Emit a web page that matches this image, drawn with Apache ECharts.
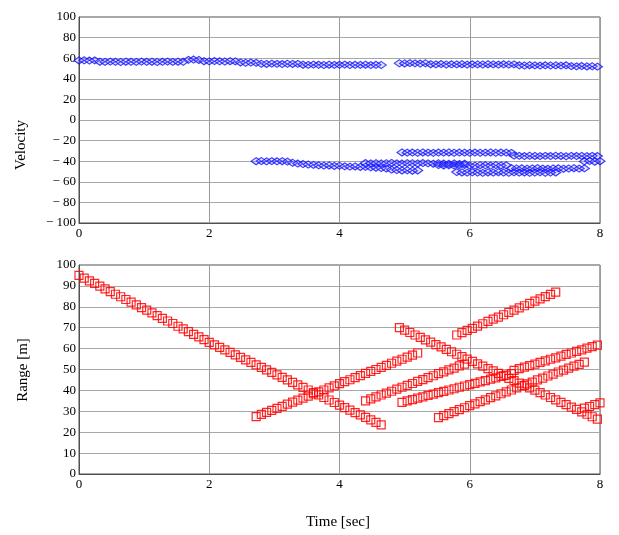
<!DOCTYPE html>
<html lang="en">
<head>
    <meta charset="UTF-8">
    <script src="https://cdn.jsdelivr.net/npm/echarts@6.0.0/dist/echarts.min.js"></script>
    <style>
        html, body { margin: 0; padding: 0; background: #fff; }
    </style>
</head>
<body>
<div id="radarChart" style="width: 619px;height:535px;"></div>
<script type="text/javascript">

    // sampling interval of the tracker [sec]
    var sampleStep = 0.08;

    // start time of each track [sec]
    var trackStarts = [0, 4.92, 2.72, 4.4, 4.96, 6.68, 5.52, 5.8, 7.76];

    // range of each track [m]
    var rangeA = [95, 93.7, 92.4, 91.2, 89.9, 88.6, 87.3, 86.0, 84.8, 83.5, 82.2, 80.9, 79.6, 78.4, 77.1, 75.8,
        74.5, 73.2, 72.0, 70.7, 69.4, 68.1, 66.8, 65.6, 64.3, 63.0, 61.8, 60.6, 59.4, 58.2, 57.0, 55.8, 54.6,
        53.4, 52.2, 51.0, 49.8, 48.6, 47.4, 46.2, 45.0, 43.8, 42.6, 41.4, 40.2, 39.0, 37.8, 36.6, 35.4, 34.2,
        33.0, 31.8, 30.6, 29.4, 28.3, 27.1, 25.9, 24.7, 23.5];
    var rangeB = [70, 68.8, 67.7, 66.5, 65.4, 64.2, 63.1, 61.9, 60.8, 59.6, 58.5, 57.3, 56.2, 55.0, 53.9, 52.7,
        51.6, 50.4, 49.3, 48.1, 47.0, 45.8, 44.7, 43.5, 42.4, 41.2, 40.1, 38.9, 37.8, 36.6, 35.5, 34.3, 33.2,
        32.0, 30.9, 29.7, 28.6, 27.4, 26.3];
    var rangeC = [27.5, 28.5, 29.5, 30.4, 31.4, 32.4, 33.4, 34.4, 35.3, 36.3, 37.3, 38.3, 39.3, 40.2, 41.2, 42.2,
        43.2, 44.2, 45.1, 46.1, 47.1, 48.1, 49.1, 50.0, 51.0, 52.0, 53.0, 54.0, 54.9, 55.9, 56.9, 57.9];
    var rangeD = [35.0, 35.9, 36.9, 37.8, 38.7, 39.6, 40.6, 41.5, 42.4, 43.3, 44.3, 45.2, 46.1, 47.0, 48.0, 48.9,
        49.8, 50.7, 51.7, 52.6];
    var rangeE1 = [34.3, 35.0, 35.6, 36.3, 36.9, 37.6, 38.2, 38.9, 39.5, 40.2, 40.8, 41.5, 42.1, 42.8, 43.4, 44.1,
        44.7, 45.4, 46.0, 46.7, 47.3, 48.0];
    var rangeE2 = [49.6, 50.4, 51.1, 51.9, 52.6, 53.4, 54.1, 54.9, 55.6, 56.4, 57.2, 57.9, 58.7, 59.4, 60.2, 60.9, 61.7];
    var rangeF = [27.0, 27.9, 28.9, 29.8, 30.8, 31.7, 32.7, 33.6, 34.6, 35.5, 36.5, 37.4, 38.4, 39.3, 40.2, 41.2,
        42.1, 43.1, 44.0, 45.0, 45.9, 46.9, 47.8, 48.8, 49.7, 50.7, 51.6, 52.5, 53.5];
    var rangeG = [66.5, 67.6, 68.7, 69.7, 70.8, 71.9, 73.0, 74.1, 75.1, 76.2, 77.3, 78.4, 79.5, 80.5, 81.6, 82.7,
        83.8, 84.9, 85.9, 87.0];
    var rangeH = [31.5, 32.3, 33.2, 34.0];

    // velocity of each track
    var velocityA = [57.8, 58.0, 57.7, 57.9,
        56.6, 56.4, 56.7, 56.5, 56.3, 56.6, 56.5, 56.4, 56.7, 56.5, 56.6, 56.3, 56.5, 56.7, 56.4, 56.6, 56.5,
        58.4, 58.7, 58.3,
        57.1, 56.9, 57.2, 57.0, 56.8, 57.1, 56.9,
        55.9, 55.6, 55.8, 55.5,
        54.6, 54.4, 54.7, 54.5, 54.3, 54.6, 54.4, 54.5,
        53.7, 53.5, 53.8, 53.6, 53.4, 53.7, 53.5, 53.6, 53.8, 53.4, 53.6, 53.5, 53.7, 53.3, 53.6, 53.4];
    var velocityB = [55.1, 54.9, 55.2, 55.0, 54.8, 55.1,
        54.2, 54.0, 54.3, 53.9, 54.1, 54.0, 54.2, 53.8, 54.1, 54.0, 53.9, 54.2, 54.0, 53.8, 54.1, 53.9, 54.0,
        53.1, 52.9, 53.2, 53.0, 52.8, 53.1, 52.9, 53.0, 52.8, 53.1,
        52.3, 52.1, 52.4, 52.0, 52.2, 51.8];
    var velocityC = [-40.0, -39.8, -40.2, -39.9, -40.1, -40.0, -40.4,
        -41.5, -42.3, -42.8, -43.2, -43.6,
        -44.0, -44.3, -44.1, -44.6, -44.4,
        -45.0, -45.3, -45.1, -45.6, -45.4,
        -46.0, -46.3, -46.6, -47.2,
        -48.2, -48.6, -49.0, -48.8, -49.2, -49.0];
    var velocityD = [-41.8, -42.1, -41.9, -42.2, -42.0, -41.7, -42.1, -42.3, -41.9, -42.0, -42.2, -41.8, -42.1,
        -42.4, -42.0, -42.3, -42.5, -42.2, -42.6, -42.4];
    var velocityE1 = [-31.5, -31.7, -31.6, -31.8, -31.5, -31.7, -31.9, -31.6, -31.7, -31.5, -31.8, -31.6, -31.7,
        -31.9, -31.6, -31.8, -31.7, -31.5, -31.8, -31.6, -31.7, -31.9];
    var velocityE2 = [-34.6, -34.8, -35.0, -34.7, -34.9, -35.1, -34.8, -35.0, -34.7, -34.9, -35.2, -34.8, -35.0,
        -34.9, -35.1, -34.8, -35.0];
    var velocityF = [-43.8, -44.1, -43.9, -44.2, -44.0, -43.7, -44.1, -44.3, -43.9, -44.0, -44.2, -43.8, -44.1, -44.0,
        -46.8, -47.1, -46.9, -47.3, -47.0, -46.7, -47.2, -47.4, -47.0, -46.9, -47.3, -47.1, -46.8, -47.2, -47.0];
    var velocityG = [-50.6, -50.9, -51.1, -50.8, -51.0, -51.3, -50.9, -51.1, -50.7, -51.0, -51.2, -50.8, -51.1,
        -50.9, -51.3, -51.0, -50.8, -51.2, -51.0, -50.9];
    var velocityH = [-40.2, -39.8, -40.5, -40.0];

    var rangeTracks = [rangeA, rangeB, rangeC, rangeD, rangeE1, rangeE2, rangeF, rangeG, rangeH];
    var velocityTracks = [velocityA, velocityB, velocityC, velocityD, velocityE1, velocityE2, velocityF, velocityG, velocityH];

    function toPoints(values, start) {
        return values.map((v, i) => [+(start + i * sampleStep).toFixed(3), v]);
    }

    var labelFont = { fontFamily: "Liberation Serif", fontSize: 13, color: "#000" };
    var titleFont = "15px Liberation Serif";

    function minusLabel(v) {
        return v < 0 ? "\u2212 " + Math.abs(v) : String(v);
    }

    function xAxisFor(gridIndex) {
        return {
            type: "value", gridIndex: gridIndex, min: 0, max: 8, interval: 2,
            axisLine: { show: true, onZero: false, lineStyle: { color: "#505050" } },
            axisTick: { show: false },
            axisLabel: Object.assign({ margin: 4 }, labelFont),
            splitLine: { show: true, lineStyle: { color: "#9a9a9a", width: 1 } }
        };
    }

    function yAxisFor(gridIndex, min, max, step) {
        return {
            type: "value", gridIndex: gridIndex, min: min, max: max, interval: step,
            axisLine: { show: true, onZero: false, lineStyle: { color: "#505050" } },
            axisTick: { show: false },
            axisLabel: Object.assign({ margin: 3, formatter: minusLabel }, labelFont),
            splitLine: { show: true, lineStyle: { color: "#a8a8a8", width: 1 } }
        };
    }

    var series = [];
    velocityTracks.forEach((vals, k) => {
        series.push({
            type: "scatter", xAxisIndex: 0, yAxisIndex: 0,
            symbol: "diamond", symbolSize: [10, 7],
            itemStyle: { color: "rgba(120,120,255,0.25)", borderColor: "#1010ff", borderWidth: 1.2, opacity: 0.8 },
            data: toPoints(vals, trackStarts[k]),
            silent: true
        });
    });
    rangeTracks.forEach((vals, k) => {
        series.push({
            type: "scatter", xAxisIndex: 1, yAxisIndex: 1,
            symbol: "rect", symbolSize: 8,
            itemStyle: { color: "rgba(0,0,0,0)", borderColor: "#ff0000", borderWidth: 1.2, opacity: 0.85 },
            data: toPoints(vals, trackStarts[k]),
            silent: true
        });
    });

    var chart = echarts.init(document.getElementById("radarChart"));
    chart.setOption({
        animation: false,
        backgroundColor: "#fff",
        grid: [
            { left: 79, top: 17, width: 521, height: 206, show: true, borderColor: "#505050", borderWidth: 1, backgroundColor: "#fff" },
            { left: 79, top: 265, width: 521, height: 209, show: true, borderColor: "#505050", borderWidth: 1, backgroundColor: "#fff" }
        ],
        xAxis: [xAxisFor(0), xAxisFor(1)],
        yAxis: [yAxisFor(0, -100, 100, 20), yAxisFor(1, 0, 100, 10)],
        graphic: [
            { type: "text", x: 14, y: 145, rotation: Math.PI / 2,
              style: { text: "Velocity", font: titleFont, fill: "#000", align: "center", verticalAlign: "top" } },
            { type: "text", x: 16, y: 370, rotation: Math.PI / 2,
              style: { text: "Range [m]", font: titleFont, fill: "#000", align: "center", verticalAlign: "top" } },
            { type: "text", x: 338, y: 522,
              style: { text: "Time [sec]", font: titleFont, fill: "#000", align: "center", verticalAlign: "middle" } }
        ],
        series: series
    });
</script>
</body>
</html>
